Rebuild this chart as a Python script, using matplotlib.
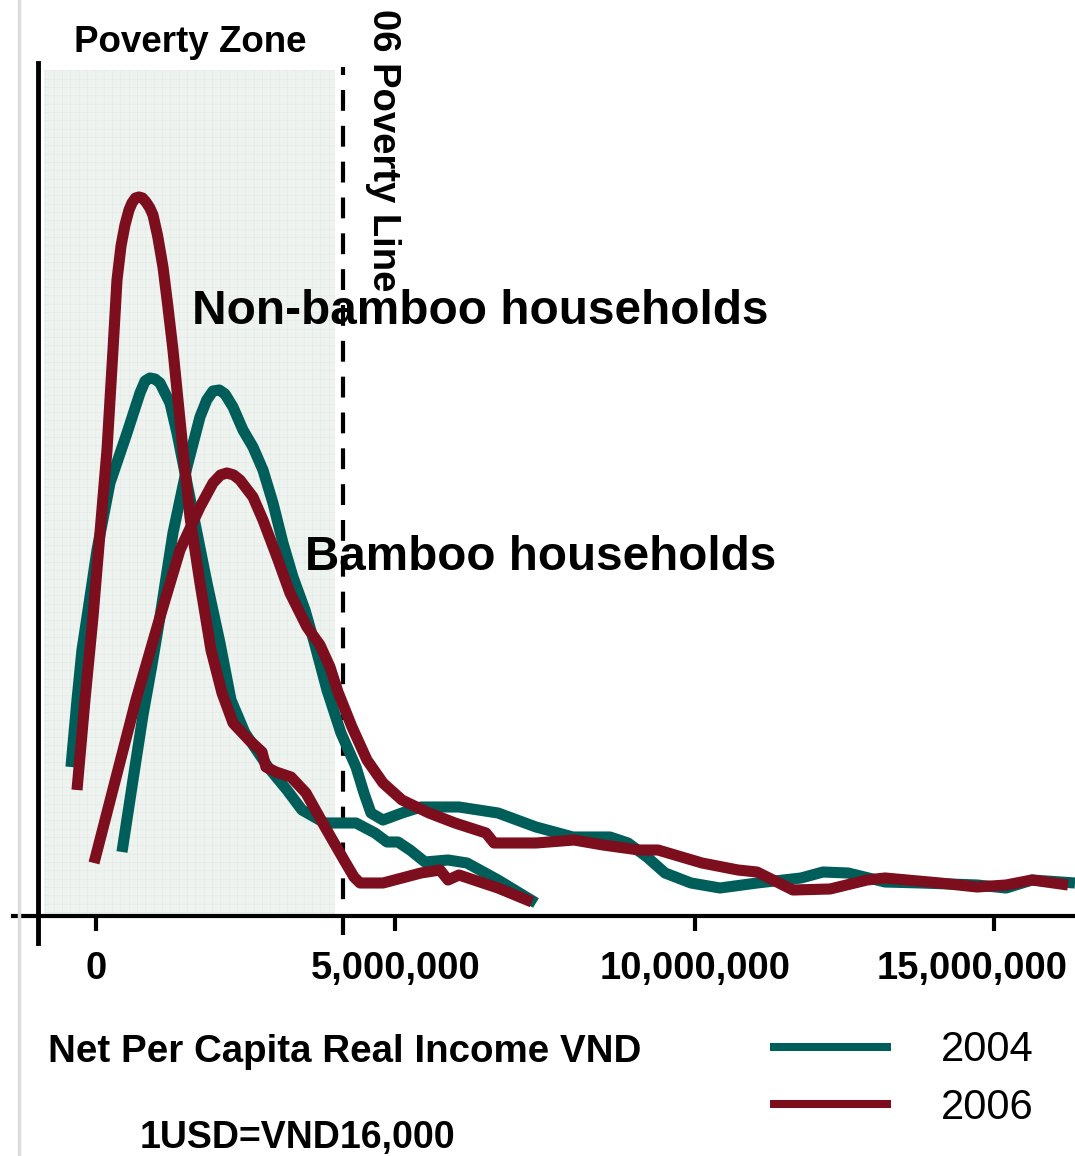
import numpy as np
import matplotlib
matplotlib.use("Agg")
import matplotlib.pyplot as plt
from matplotlib.lines import Line2D

plt.rcParams['font.family'] = ['Liberation Sans', 'DejaVu Sans']
plt.rcParams['hatch.linewidth'] = 0.4

# ----- Data (income in million VND, density in relative units) -----
# group A: low-income curves ending near 7.3M
a04_x = [-0.418, -0.317, -0.234, -0.150, 0.017, 0.234, 0.518, 0.735, 0.820, 0.902, 0.985, 1.069,
         1.236, 1.353, 1.520, 1.687, 1.854, 2.071, 2.255, 2.489, 2.873, 3.190,
         3.441, 3.825, 4.343, 4.660, 4.861, 5.044, 5.245, 5.495, 5.880, 6.197,
         6.715, 7.349]
a04_y = [14.9, 21.6, 26.6, 29.9, 36.6, 43.3, 48.3, 52.3, 53.5, 53.8, 53.7, 53.3,
         51.3, 48.3, 43.3, 38.3, 33.3, 27.3, 21.6, 18.3, 14.9, 12.6,
         10.6, 9.3, 9.3, 8.3, 7.4, 7.4, 6.6, 5.4, 5.6, 5.3,
         3.6, 1.3]

a06_x = [-0.317, -0.184, -0.050, 0.067, 0.184, 0.284, 0.351, 0.418, 0.484, 0.551, 0.601, 0.660, 0.718,
         0.776, 0.835, 0.900, 0.952, 1.030, 1.119, 1.200, 1.286, 1.453, 1.570, 1.737, 1.921, 2.105, 2.289,
         2.556, 2.773, 2.839, 3.006, 3.257, 3.508, 3.825, 4.142, 4.309, 4.410,
         4.794, 5.428, 5.746, 5.880, 6.063, 6.715, 7.282]
a06_y = [12.6, 21.6, 29.9, 38.3, 46.6, 56.6, 63.6, 67.0, 69.1, 70.6, 71.3, 71.8, 71.9,
         71.8, 71.4, 70.8, 70.1, 68.0, 64.9, 61.0, 56.6, 46.6, 39.9, 33.3, 26.6, 22.3, 19.3,
         17.6, 16.4, 14.9, 14.4, 13.9, 12.3, 8.9, 5.6, 3.9, 3.3,
         3.3, 4.3, 4.6, 3.6, 4.1, 2.8, 1.4]

# group B: wider curves running past 15M
b04_x = [0.434, 0.618, 0.785, 0.935, 1.069, 1.286, 1.520, 1.737, 1.850, 1.954, 2.060, 2.155,
         2.288, 2.455, 2.622, 2.789, 2.956, 3.123, 3.290, 3.491, 3.658, 3.858,
         4.092, 4.343, 4.476, 4.593, 4.794, 5.111, 5.428, 6.063, 6.715, 7.349,
         7.967, 8.585, 8.886, 9.203, 9.504, 9.938, 10.423, 11.041, 11.776, 12.143,
         12.561, 13.179, 13.797, 14.715, 15.200, 15.634, 16.352]
b04_y = [6.4, 13.6, 20.1, 25.1, 29.9, 38.3, 44.9, 49.9, 51.6, 52.5, 52.6, 52.2,
         50.9, 48.6, 46.9, 44.6, 41.3, 37.3, 33.9, 30.6, 27.1, 22.6,
         18.3, 14.9, 12.3, 10.3, 9.6, 10.3, 10.9, 10.9, 10.3, 8.9,
         7.9, 7.9, 7.3, 5.9, 4.3, 3.3, 2.8, 3.3, 3.8, 4.4,
         4.3, 3.4, 3.3, 3.1, 2.8, 3.6, 3.3]

b06_x = [-0.033, 0.668, 1.069, 1.403, 1.737, 1.954, 2.080, 2.188, 2.300, 2.405, 2.622, 2.789,
         3.023, 3.240, 3.524, 3.741, 3.908, 4.042, 4.276, 4.526, 4.794, 5.111,
         5.562, 5.996, 6.514, 6.648, 7.349, 7.984, 8.468, 9.070, 9.387, 10.122,
         10.723, 11.041, 11.642, 12.260, 12.878, 13.179, 14.097, 14.715, 15.200, 15.634,
         16.235]
b06_y = [5.3, 21.6, 29.9, 36.6, 40.9, 43.3, 44.1, 44.3, 44.1, 43.6, 41.9, 39.6,
         35.9, 32.3, 28.9, 27.1, 24.9, 22.4, 18.9, 15.6, 13.3, 11.6,
         10.3, 9.3, 8.3, 7.3, 7.3, 7.6, 7.1, 6.6, 6.6, 5.3,
         4.6, 4.4, 2.6, 2.7, 3.6, 3.8, 3.3, 2.9, 3.1, 3.6,
         3.1]

xticks = [0, 5e6, 10e6, 15e6]
xtick_labels = ['0', '5,000,000', '10,000,000', '15,000,000']
poverty_line = 4.13e6
zone_start = -0.87e6

teal = '#005E5A'
red = '#7D0E1E'

fig = plt.figure(figsize=(10.75, 11.56), dpi=100)
ax = fig.add_axes([13 / 1075, 240 / 1156, 1062 / 1075, 886 / 1156])
ax.set_xlim(-1.386e6, 16.352e6)
ax.set_ylim(0, 88.6)
for s in ax.spines.values():
    s.set_visible(False)
ax.set_yticks([])

# poverty zone shading
ax.axvspan(zone_start, poverty_line - 0.13e6, ymin=0, ymax=84.6 / 88.6,
           facecolor='#eef3ef', edgecolor='#e2eae4', hatch='++', linewidth=0, zorder=0)

# poverty line
ax.plot([poverty_line, poverty_line], [-1.9, 84.9], color='black', lw=3,
        dashes=(5, 3.6), clip_on=False, zorder=3)

# curves
kw = dict(lw=8, solid_capstyle='butt', solid_joinstyle='round', zorder=4)
ax.plot(np.array(a04_x) * 1e6, a04_y, color=teal, **kw)
ax.plot(np.array(b04_x) * 1e6, b04_y, color=teal, **kw)
ax.plot(np.array(b06_x) * 1e6, b06_y, color=red, **kw)
ax.plot(np.array(a06_x) * 1e6, a06_y, color=red, **kw)

# axes lines
ax.axhline(0, color='black', lw=3, clip_on=False, zorder=5)
ax.plot([-0.968e6, -0.968e6], [-2.7, 85.3], color='black', lw=3.5, clip_on=False, zorder=5)

ax.set_xticks(xticks)
ax.tick_params(axis='x', direction='out', length=11, width=3, labelbottom=False)
for i, (t, lab) in enumerate(zip(xticks, xtick_labels)):
    dx = -0.37e6 if i == len(xticks) - 1 else 0
    ax.text(t + dx, -5.3, lab, ha='center', va='center', fontsize=27.5,
            fontweight='bold', clip_on=False)

# annotations
ax.text((zone_start + poverty_line) / 2 - 0.05e6, 87.3, 'Poverty Zone', ha='center',
        va='center', fontsize=26.5, fontweight='bold')
ax.text(4.79e6, 76.6, '06 Poverty Line', ha='center', va='center', rotation=270,
        fontsize=27.5, fontweight='bold')
ax.text(1.60e6, 60.4, 'Non-bamboo households', ha='left', va='center',
        fontsize=34.4, fontweight='bold', zorder=6)
ax.text(3.49e6, 35.8, 'Bamboo households', ha='left', va='center',
        fontsize=34.3, fontweight='bold', zorder=6)

fig.text(48 / 1075, (1156 - 1052) / 1156, 'Net Per Capita Real Income VND',
         ha='left', va='center', fontsize=27.7, fontweight='bold')
fig.text(140 / 1075, (1156 - 1138) / 1156, '1USD=VND16,000',
         ha='left', va='center', fontsize=27, fontweight='bold')

handles = [Line2D([], [], color=teal, lw=5.8, solid_capstyle='butt'),
           Line2D([], [], color=red, lw=5.8, solid_capstyle='butt')]
fig.legend(handles, ['2004', '2006'], loc='center left',
           bbox_to_anchor=(770 / 1075, (1156 - 1079) / 1156), frameon=False,
           fontsize=30, handlelength=2.9, handletextpad=1.2, labelspacing=0.42,
           borderpad=0, borderaxespad=0)

# slide border artefact on the left
fig.add_artist(Line2D([19 / 1075, 19 / 1075], [0, 1], color='#dcdcdc', lw=2.5))

fig.savefig('out.png', dpi=100)
